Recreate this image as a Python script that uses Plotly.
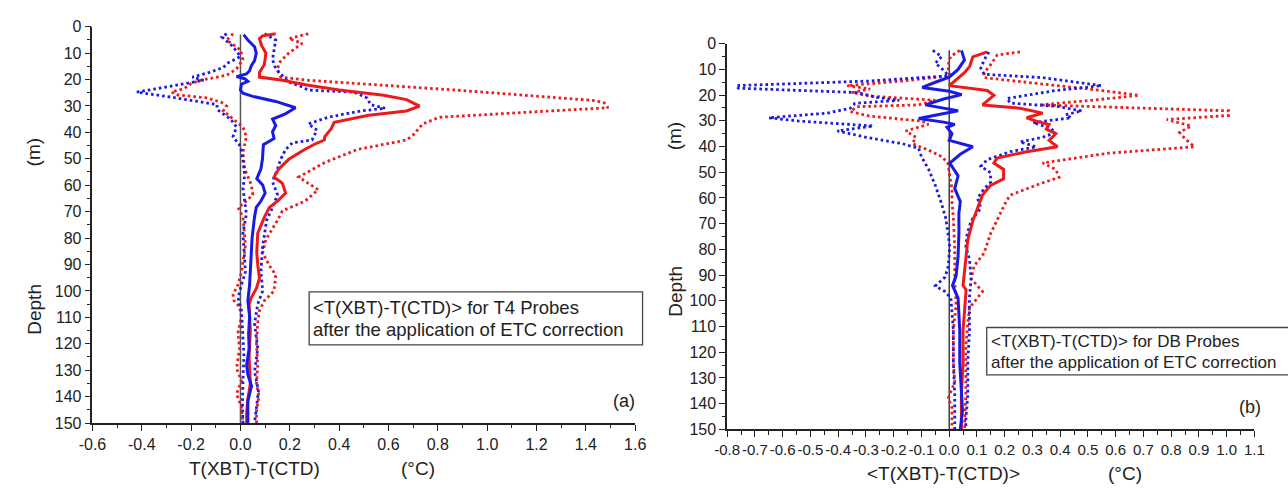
import plotly.graph_objects as go

W, H = 1288, 489

# ---------------- Panel (a): T4 probes ----------------
A_BLUE_MEAN_D = [3, 5.1, 7.6, 10, 12.9, 14.8, 16.7, 17.9, 18.9, 19.7, 20.7, 21.8, 24, 25.2, 26.4, 28.3, 30.7, 33.1, 35, 37.4, 39.8, 42.3, 44.7, 50.2, 53.8, 57.5, 59.9, 63, 66, 68.4, 72, 80, 85.5, 92, 97.7, 103.7, 109.8, 116, 121.9, 128, 131.7, 136, 141.5, 146, 150]
A_BLUE_MEAN_V = [0.013, 0.03, 0.057, 0.064, 0.057, 0.044, 0.037, 0.024, -0.016, 0.017, 0.03, 0.004, 0.0, 0.01, 0.05, 0.143, 0.223, 0.18, 0.13, 0.143, 0.13, 0.136, 0.093, 0.089, 0.083, 0.066, 0.09, 0.1, 0.083, 0.064, 0.057, 0.047, 0.044, 0.04, 0.037, 0.03, 0.037, 0.033, 0.035, 0.025, 0.03, 0.045, 0.03, 0.03, 0.03]

A_RED_MEAN_D = [2.7, 3.5, 4.5, 7, 10, 14.3, 17.3, 19.1, 20.3, 22.2, 24, 26, 27.6, 30.1, 31.9, 33.5, 36.2, 38.6, 41.6, 42.9, 44.5, 46.5, 50.2, 53.8, 56.9, 59.3, 63, 66, 68.4, 72.1, 78.2, 85.5, 90, 95.2, 99, 102.5, 105, 115, 125, 135, 141, 146, 150]
A_RED_MEAN_V = [0.143, 0.09, 0.077, 0.085, 0.103, 0.097, 0.077, 0.077, 0.17, 0.275, 0.4, 0.58, 0.673, 0.726, 0.673, 0.52, 0.38, 0.368, 0.342, 0.34, 0.3, 0.26, 0.196, 0.156, 0.136, 0.17, 0.183, 0.15, 0.117, 0.097, 0.07, 0.066, 0.07, 0.077, 0.065, 0.044, 0.035, 0.04, 0.035, 0.04, 0.03, 0.025, 0.025]

A_RED_HI_D = [2.7, 4.5, 6.3, 10, 13.7, 16.5, 19.1, 20.3, 24, 28, 28.9, 30.7, 32.2, 34.3, 36.8, 41, 42.9, 46.5, 51.4, 55, 56.9, 59.3, 61.7, 66, 69.7, 73.3, 78.2, 80.6, 85.5, 90.4, 94, 100, 103.7, 107.4, 112, 120, 128, 135, 140, 145, 150]
A_RED_HI_V = [0.275, 0.196, 0.25, 0.196, 0.156, 0.15, 0.163, 0.275, 0.872, 1.44, 1.475, 1.49, 1.2, 0.806, 0.739, 0.7, 0.673, 0.474, 0.342, 0.275, 0.236, 0.275, 0.315, 0.262, 0.17, 0.15, 0.117, 0.103, 0.09, 0.117, 0.143, 0.136, 0.097, 0.077, 0.07, 0.065, 0.07, 0.065, 0.075, 0.065, 0.065]

A_RED_LO_D = [2.7, 5.1, 8.8, 12.5, 16, 18.4, 20.3, 21.5, 23.4, 24.8, 25.8, 27, 28.9, 30.1, 31.9, 34.3, 38, 41.6, 47.7, 53.8, 59.9, 63.6, 67.2, 68.4, 72.1, 78.2, 83, 92.8, 97.7, 101.3, 103.7, 106, 109.8, 115.9, 121.9, 129.3, 134.2, 139, 143.9, 150]
A_RED_LO_V = [-0.03, -0.056, 0.0, 0.01, -0.016, -0.056, -0.162, -0.2, -0.228, -0.28, -0.255, -0.135, -0.07, -0.056, -0.07, -0.04, 0.01, 0.024, 0.01, 0.017, 0.044, 0.05, 0.01, -0.01, 0.01, 0.016, 0.02, 0.004, -0.01, -0.03, -0.026, -0.004, 0.004, -0.01, -0.004, -0.016, 0.004, -0.016, 0.004, 0.01]

A_BLUE_HI_D = [2.7, 5.1, 8.8, 12.5, 16, 18.4, 21, 22.8, 24, 24.8, 27, 29.5, 30.9, 31.9, 34.3, 36.8, 39.2, 42.9, 44, 46.5, 50.2, 53.8, 58.7, 63.6, 68.4, 73.3, 78.2, 83, 92.8, 100, 105, 112.3, 121.9, 130.5, 137.8, 150]
A_BLUE_HI_V = [0.097, 0.143, 0.136, 0.13, 0.143, 0.17, 0.196, 0.25, 0.275, 0.46, 0.514, 0.527, 0.587, 0.487, 0.355, 0.275, 0.31, 0.29, 0.21, 0.183, 0.163, 0.15, 0.13, 0.15, 0.13, 0.106, 0.097, 0.09, 0.083, 0.09, 0.07, 0.057, 0.07, 0.057, 0.073, 0.057]

A_BLUE_LO_D = [2.7, 3.9, 7.6, 11.3, 13.7, 15.5, 17.3, 19.1, 20.3, 22.2, 24.8, 26.4, 28.3, 29.5, 31.3, 33.1, 35, 38, 41.6, 45.3, 50.2, 56.3, 61.1, 66, 70.9, 78.2, 85.5, 92.8, 97.7, 102.5, 107.4, 115.9, 124.4, 134.2, 142.7, 150]
A_BLUE_LO_V = [-0.056, -0.075, -0.03, 0.0, -0.05, -0.07, -0.126, -0.195, -0.15, -0.268, -0.42, -0.3, -0.17, -0.095, -0.095, -0.07, -0.04, -0.016, -0.03, 0.0, 0.01, 0.017, 0.01, 0.017, 0.024, 0.01, 0.014, 0.02, 0.004, -0.01, 0.004, 0.01, 0.014, 0.01, 0.008, 0.01]

# ---------------- Panel (b): DB probes ----------------
B_BLUE_MEAN_D = [2.6, 6.3, 10, 13, 15, 17, 18.5, 19.8, 21.5, 23.8, 26.1, 27.5, 29.1, 30.5, 31.4, 32.5, 35, 37.6, 40.1, 43, 46.4, 51.4, 56.4, 61.4, 66, 73.9, 82.7, 90.2, 94, 99, 111.5, 124, 134, 142.8, 150]
B_BLUE_MEAN_V = [0.044, 0.055, 0.032, 0.0, -0.05, -0.097, 0.0, 0.045, -0.02, -0.086, 0.032, -0.03, -0.11, -0.02, 0.02, -0.008, 0.01, 0.0, 0.085, 0.04, 0.002, 0.032, 0.02, 0.04, 0.035, 0.035, 0.032, 0.025, 0.012, 0.032, 0.038, 0.038, 0.044, 0.048, 0.04]

B_RED_MEAN_D = [3.2, 5.1, 8.8, 11.3, 14.5, 16.3, 18.2, 20.1, 23.8, 25.1, 27, 28.8, 30.1, 31.4, 33.2, 35, 37.6, 40.1, 42, 44.5, 46.4, 48.9, 52.6, 55.1, 58.9, 63.9, 68.9, 76.4, 86.4, 94, 95.8, 101.5, 111.5, 124, 136.5, 150]
B_RED_MEAN_V = [0.137, 0.085, 0.074, 0.055, 0.02, 0.0, 0.137, 0.161, 0.12, 0.255, 0.337, 0.279, 0.313, 0.36, 0.35, 0.384, 0.36, 0.39, 0.279, 0.173, 0.161, 0.196, 0.196, 0.149, 0.12, 0.102, 0.085, 0.067, 0.056, 0.05, 0.061, 0.056, 0.05, 0.05, 0.044, 0.044]

B_RED_HI_D = [3.2, 4.4, 8.2, 11.3, 13.2, 16.3, 18.2, 20.1, 22, 23.8, 25.1, 26.1, 27.9, 29.5, 32, 34.5, 37, 40.1, 42.6, 46.4, 48.9, 52, 54.5, 58.9, 61.4, 66.4, 73.9, 81.4, 86.4, 91.4, 96.4, 98.9, 102.7, 109, 117.7, 126.5, 136.5, 146.4, 150]
B_RED_HI_V = [0.255, 0.173, 0.149, 0.126, 0.126, 0.396, 0.55, 0.684, 0.514, 0.326, 0.69, 1.007, 1.007, 0.784, 0.872, 0.83, 0.85, 0.884, 0.572, 0.337, 0.384, 0.396, 0.326, 0.22, 0.205, 0.182, 0.149, 0.126, 0.09, 0.079, 0.12, 0.102, 0.073, 0.067, 0.06, 0.06, 0.06, 0.056, 0.056]

B_RED_LO_D = [2.6, 5, 8.8, 12.5, 14.5, 16.3, 17.6, 19, 20.4, 22, 23.8, 24.5, 26.4, 28.2, 30.1, 31.4, 33.9, 36.4, 38.9, 41.4, 43.9, 46.4, 51.4, 56.4, 61.4, 67.6, 80.1, 92.6, 101.5, 111.5, 124, 131.6, 137.8, 141.6, 150]
B_RED_LO_V = [0.038, 0.005, -0.005, 0.003, -0.168, -0.368, -0.285, -0.35, -0.285, -0.05, -0.11, -0.333, -0.356, -0.285, -0.097, -0.075, -0.156, -0.12, -0.133, -0.074, -0.027, -0.005, 0.002, 0.01, 0.01, 0.015, 0.02, 0.02, 0.025, 0.015, 0.015, 0.02, -0.003, 0.01, 0.01]

B_BLUE_HI_D = [3.2, 6.3, 9.5, 11.9, 13.2, 16.3, 18.2, 21.3, 23.1, 24.4, 26.1, 27.6, 28.8, 30.7, 32.6, 34.5, 36.4, 38.2, 40.1, 42, 45.1, 47.7, 50.2, 53.9, 56.4, 60.1, 63.9, 68.9, 73.9, 78.9, 83.9, 91.4, 98.9, 111.5, 124, 136.5, 146.4, 150]
B_BLUE_HI_V = [0.143, 0.126, 0.114, 0.126, 0.337, 0.549, 0.384, 0.208, 0.22, 0.39, 0.478, 0.42, 0.44, 0.302, 0.36, 0.384, 0.337, 0.255, 0.314, 0.22, 0.137, 0.114, 0.149, 0.149, 0.126, 0.102, 0.114, 0.079, 0.065, 0.06, 0.073, 0.079, 0.073, 0.073, 0.067, 0.067, 0.06, 0.06]

B_BLUE_LO_D = [2.6, 5, 7.6, 10.7, 12.5, 14.5, 16.3, 17.3, 19, 20.9, 22, 23.2, 25.1, 27, 28.8, 30.1, 32, 33.9, 36.4, 38.9, 40.7, 43.9, 48.9, 55.1, 61.4, 67.6, 73.9, 78.9, 86.4, 90.8, 94.2, 96.4, 98.9, 111.5, 124, 136.5, 150]
B_BLUE_LO_V = [-0.059, -0.027, -0.05, -0.016, -0.004, -0.285, -0.767, -0.76, -0.33, -0.26, -0.18, -0.34, -0.356, -0.44, -0.65, -0.54, -0.274, -0.403, -0.3, -0.168, -0.11, -0.1, -0.074, -0.05, -0.03, -0.013, -0.004, 0.002, -0.003, -0.015, -0.05, -0.015, 0.006, 0.015, 0.015, 0.02, 0.02]

# zero reference line (depth extent)
ZERO_A = [3, 150]
ZERO_B = [2.5, 150]

# ticks
X_TICKS_A = [-0.6, -0.4, -0.2, 0.0, 0.2, 0.4, 0.6, 0.8, 1.0, 1.2, 1.4, 1.6]
X_TICKS_B = [-0.8, -0.7, -0.6, -0.5, -0.4, -0.3, -0.2, -0.1, 0.0, 0.1, 0.2, 0.3, 0.4, 0.5, 0.6, 0.7, 0.8, 0.9, 1.0, 1.1]
Y_TICKS = list(range(0, 151, 10))

RED = "#ee1a1a"
BLUE = "#1a1ae6"
FONT = "Liberation Sans, Arial, sans-serif"
INK = "#222222"

fig = go.Figure()


def add_panel(xa, ya, series):
    for d, v, color, style in series:
        if style == "dot":
            line = dict(color=color, width=2.8, dash="2.6px,3px")
        else:
            line = dict(color=color, width=3)
        fig.add_trace(go.Scatter(x=v, y=d, mode="lines", line=line,
                                 xaxis=xa, yaxis=ya, showlegend=False,
                                 hoverinfo="skip"))


add_panel("x", "y", [
    (A_RED_LO_D, A_RED_LO_V, RED, "dot"),
    (A_RED_HI_D, A_RED_HI_V, RED, "dot"),
    (A_BLUE_LO_D, A_BLUE_LO_V, BLUE, "dot"),
    (A_BLUE_HI_D, A_BLUE_HI_V, BLUE, "dot"),
    (A_RED_MEAN_D, A_RED_MEAN_V, RED, "solid"),
    (A_BLUE_MEAN_D, A_BLUE_MEAN_V, BLUE, "solid"),
])
add_panel("x2", "y2", [
    (B_RED_LO_D, B_RED_LO_V, RED, "dot"),
    (B_RED_HI_D, B_RED_HI_V, RED, "dot"),
    (B_BLUE_LO_D, B_BLUE_LO_V, BLUE, "dot"),
    (B_BLUE_HI_D, B_BLUE_HI_V, BLUE, "dot"),
    (B_RED_MEAN_D, B_RED_MEAN_V, RED, "solid"),
    (B_BLUE_MEAN_D, B_BLUE_MEAN_V, BLUE, "solid"),
])


def px(x):
    return x / W


def py(y):
    return 1 - y / H


axis_common = dict(
    showline=True, linecolor=INK, linewidth=1.6, mirror=False,
    ticks="outside", ticklen=6, tickwidth=1.4, tickcolor=INK,
    showgrid=False, zeroline=False, tickangle=0,
    tickfont=dict(family=FONT, size=16, color=INK),
)

fig.update_layout(
    width=W, height=H,
    margin=dict(l=0, r=0, t=0, b=0),
    paper_bgcolor="white", plot_bgcolor="white",
    showlegend=False,
    xaxis=dict(axis_common, domain=[px(80), px(633.5)], range=[-0.6, 1.6], anchor="y",
               tickmode="array", tickvals=X_TICKS_A, ticktext=[f"{v:.1f}" for v in X_TICKS_A],
               minor=dict(tickmode="linear", tick0=0, dtick=0.1, ticks="outside", ticklen=3.5,
                          tickwidth=1.2, tickcolor=INK, showgrid=False)),
    yaxis=dict(axis_common, domain=[py(430), py(19.3)], range=[150, 0], anchor="x",
               tickmode="array", tickvals=Y_TICKS, ticktext=[str(v) for v in Y_TICKS],
               minor=dict(tickmode="linear", tick0=0, dtick=5, ticks="outside", ticklen=3.5,
                          tickwidth=1.2, tickcolor=INK, showgrid=False)),
    xaxis2=dict(axis_common, domain=[px(727.3), px(1265)], range=[-0.8, 1.1], anchor="y2",
                tickmode="array", tickvals=X_TICKS_B, ticktext=[f"{v:.1f}" for v in X_TICKS_B],
                tickfont=dict(family=FONT, size=15, color=INK),
                minor=dict(tickmode="linear", tick0=0, dtick=0.05, ticks="outside", ticklen=3.5,
                           tickwidth=1.2, tickcolor=INK, showgrid=False)),
    yaxis2=dict(axis_common, domain=[py(436.5), py(37)], range=[150, 0], anchor="x2",
                tickmode="array", tickvals=Y_TICKS, ticktext=[str(v) for v in Y_TICKS],
                minor=dict(tickmode="linear", tick0=0, dtick=5, ticks="outside", ticklen=3.5,
                           tickwidth=1.2, tickcolor=INK, showgrid=False)),
)

# zero reference lines
fig.add_shape(type="line", xref="x", yref="y", x0=0, x1=0, y0=ZERO_A[0], y1=ZERO_A[1],
              line=dict(color="#555555", width=1.5), layer="below")
fig.add_shape(type="line", xref="x2", yref="y2", x0=0, x1=0, y0=ZERO_B[0], y1=ZERO_B[1],
              line=dict(color="#111111", width=1.2), layer="below")

# annotation boxes
fig.add_shape(type="rect", xref="paper", yref="paper", x0=px(301), x1=px(641), y0=py(349), y1=py(294),
              line=dict(color="#444444", width=1.3), fillcolor="white", layer="above")
fig.add_shape(type="rect", xref="paper", yref="paper", x0=px(992), x1=px(1300), y0=py(380), y1=py(331),
              line=dict(color="#444444", width=1.3), fillcolor="white", layer="above")


def text(s, x, y, size=19, angle=0, xanchor="center"):
    fig.add_annotation(text=s, x=px(x), y=py(y), xref="paper", yref="paper",
                       showarrow=False, textangle=angle, xanchor=xanchor, yanchor="middle",
                       font=dict(family=FONT, size=size, color=INK))


# axis titles
text("(m)", 20, 150, angle=-90)
text("Depth", 21, 312, angle=-90)
text("T(XBT)-T(CTD)", 245, 477)
text("(°C)", 412, 477)
text("(m)", 673, 133, angle=-90)
text("Depth", 675, 293, angle=-90)
text("&lt;T(XBT)-T(CTD)&gt;", 948, 482)
text("(°C)", 1133, 482)

# box texts
text("&lt;T(XBT)-T(CTD)&gt; for T4 Probes", 303, 310, size=18.5, xanchor="left")
text("after the application of ETC correction", 303, 333, size=18.5, xanchor="left")
text("&lt;T(XBT)-T(CTD)&gt; for DB Probes", 994, 345, size=17, xanchor="left")
text("after the application of ETC correction", 994, 367, size=17, xanchor="left")

text("(a)", 622, 407, size=18)
text("(b)", 1260, 413, size=18)

fig.write_html("out.html")
